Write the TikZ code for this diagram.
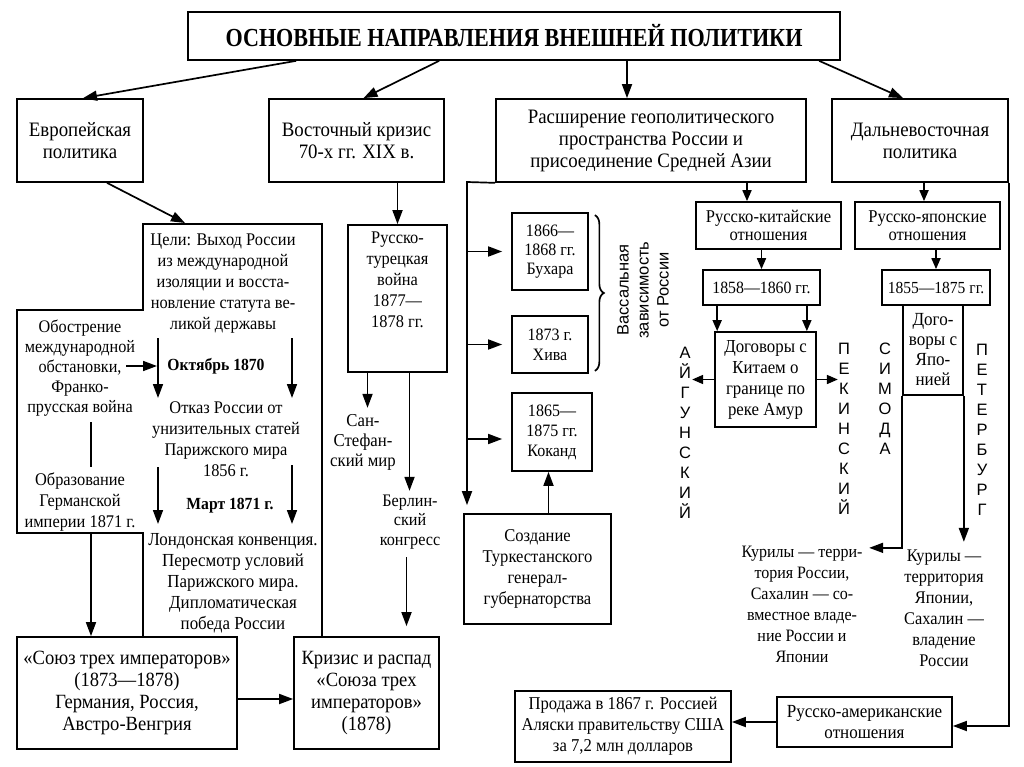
\documentclass[tikz,border=0pt]{standalone}
\usepackage{fontspec}
\setmainfont{Liberation Serif}[FakeStretch=0.92]
\newfontfamily\titlefont{Liberation Serif}[FakeStretch=0.85]
\newfontfamily\sansf{Liberation Sans}
\usetikzlibrary{arrows.meta,calc,decorations.pathreplacing}
\begin{document}
\begin{tikzpicture}[x=1pt,y=-1pt,
  txt/.style={font=\fontsize{17.8}{21}\selectfont, align=center, inner sep=0pt},
  big/.style={font=\fontsize{20.5}{22}\selectfont},
  bld/.style={font=\bfseries\fontsize{17}{21}\selectfont},
  box/.style={draw, line width=1.7pt, inner sep=0pt},
  ln/.style={line width=1.7pt},
  arr/.style={line width=1.7pt, -{Triangle[length=14pt,width=10pt]}},
  sarr/.style={line width=1.7pt, -{Triangle[length=11pt,width=9pt]}},
  vlet/.style={font=\sansf\fontsize{16.5}{20}\selectfont, align=center, inner sep=0pt},
]
\fill[white] (0,0) rectangle (1024,767);
\useasboundingbox (0,0) rectangle (1024,767);

% title and top row
\node[box,txt,font=\titlefont\bfseries\fontsize{26}{28}\selectfont,minimum width=652pt,minimum height=48pt] (title) at (514,36) {ОСНОВНЫЕ НАПРАВЛЕНИЯ ВНЕШНЕЙ ПОЛИТИКИ};
\node[box,txt,big,minimum width=126pt,minimum height=83pt] (eur) at (80,140.5) {Европейская\\политика};
\node[box,txt,big,minimum width=175pt,minimum height=83pt] (vost) at (356.5,140.5) {Восточный кризис\\70-х гг. XIX в.};
\node[box,txt,big,minimum width=310pt,minimum height=83pt] (ras) at (651,140.5) {Расширение геополитического\\пространства России и\\присоединение Средней Азии};
\node[box,txt,big,minimum width=176pt,minimum height=83pt] (dal) at (920,140.5) {Дальневосточная\\политика};

\draw[arr] ([xshift=109pt]title.south west) -- ([xshift=3pt]eur.north);
\draw[arr] ([xshift=252pt]title.south west) -- ([xshift=7pt]vost.north);
\draw[arr] ($(ras.north |- title.south)+(-24,0)$) -- ($(ras.north)+(-24,0)$);
\draw[arr] ([xshift=632pt]title.south west) -- ([xshift=-17pt]dal.north);

% left frame
\coordinate (lfTop) at (185,223);
\draw[arr] ([xshift=27pt]eur.south) -- (lfTop);
\draw[ln] (143,637) -- (143,533) -- (17,533) -- (17,310) -- (143,310) -- (143,224) -- (322,224) -- (322,637);

\node[txt] (goal) at (223,284) {Цели: Выход России\\из международной\\изоляции и восста-\\новление статута ве-\\ликой державы};
\node[txt,font=\fontsize{17.6}{20}\selectfont] (obostr) at (80,368) {Обострение\\международной\\обстановки,\\Франко-\\прусская война};
\node[txt,bld] (okt) at (216,366) {Октябрь 1870};
\node[txt] (otkaz) at (226,439) {Отказ России от\\унизительных статей\\Парижского мира\\1856 г.};
\node[txt] (obraz) at (80,502) {Образование\\Германской\\империи 1871 г.};
\node[txt,bld] (mart) at (230,506) {Март 1871 г.};
\node[txt,font=\fontsize{18.4}{21}\selectfont] (london) at (233,583) {Лондонская конвенция.\\Пересмотр условий\\Парижского мира.\\Дипломатическая\\победа России};

\coordinate (ob1) at (126,366); \coordinate (ob2) at (157,366);
\draw[arr] (ob1) -- (ob2);
\coordinate (la1) at (158,338); \coordinate (la2) at (158,398);
\coordinate (ra1) at (292,338); \coordinate (ra2) at (292,398);
\coordinate (la3) at (158,467); \coordinate (la4) at (158,524);
\coordinate (ra3) at (292,465); \coordinate (ra4) at (292,524);
\draw[arr] (la1) -- (la2); \draw[arr] (ra1) -- (ra2);
\draw[arr] (la3) -- (la4); \draw[arr] (ra3) -- (ra4);
\coordinate (vl1) at (91,422); \coordinate (vl2) at (91,467);
\draw[ln] (vl1) -- (vl2);

% bottom left boxes
\node[box,txt,font=\fontsize{20.2}{22}\selectfont,minimum width=220pt,minimum height=112pt] (soyuz) at (127,693) {«Союз трех императоров»\\(1873—1878)\\Германия, Россия,\\Австро-Венгрия};
\node[box,txt,font=\fontsize{20.2}{22}\selectfont,minimum width=145pt,minimum height=112pt] (krizis) at (366.5,693) {Кризис и распад\\«Союза трех\\императоров»\\(1878)};
\coordinate (obB) at (91,533);
\draw[arr] (obB) -- (obB |- soyuz.north);
\draw[arr] ($(soyuz.east)+(0,6)$) -- ($(krizis.west)+(0,6)$);

% middle column
\node[box,minimum width=99pt,minimum height=147pt] (turk) at (397.5,298.5) {};
\node[txt] (turkT) at (397.5,280) {Русско-\\турецкая\\война\\1877—\\1878 гг.};
\draw[arr] (turk.north |- vost.south) -- (turk.north);
\node[txt,font=\fontsize{18.2}{20}\selectfont] (sanst) at (363,442) {Сан-\\Стефан-\\ский мир};
\node[txt,font=\fontsize{17.6}{19.5}\selectfont] (berlin) at (410,522) {Берлин-\\ский\\конгресс};
\draw[arr] ($(turk.south)+(-30,0)$) -- ++(0,35);
\draw[arr] ($(turk.south)+(12,0)$) -- ++(0,118);
\draw[arr] ($(krizis.north)+(40,-79)$) -- ($(krizis.north)+(40,-10)$);

% Central Asia
\node[box,txt,font=\fontsize{17.4}{19}\selectfont,minimum width=76pt,minimum height=77pt] (buh) at (550,251.5) {1866—\\1868 гг.\\Бухара};
\node[box,txt,font=\fontsize{17.4}{20}\selectfont,minimum width=76pt,minimum height=57pt] (hiva) at (550,344.5) {1873 г.\\Хива};
\node[box,txt,font=\fontsize{17.4}{20}\selectfont,minimum width=80pt,minimum height=78pt] (kok) at (552,432) {1865—\\1875 гг.\\Коканд};
\node[box,txt,font=\fontsize{18}{21}\selectfont,minimum width=147pt,minimum height=110pt] (sozd) at (537.5,569) {Создание\\Туркестанского\\генерал-\\губернаторства};
\coordinate (asL) at (467,182);
\draw[arr] (ras.south west) -- (asL) -- ($(asL |- sozd.north)+(0,-8)$);
\draw[arr] (asL |- buh.west) -- ($(buh.west)+(-9,0)$);
\draw[arr] (asL |- hiva.west) -- ($(hiva.west)+(-9,0)$);
\draw[arr] ($(asL |- kok.west)+(0,7)$) -- ($(kok.west)+(-9,7)$);
\coordinate (sk) at ($(sozd.north)+(11,0)$);
\draw[arr] (sk) -- (sk |- kok.south);
\draw[ln,decorate,decoration={brace,amplitude=9pt}] ($(buh.north east)+(6,3)$) -- ($(hiva.south east)+(6,-3)$);
\node[txt,font=\sansf\fontsize{16.5}{20}\selectfont,rotate=90] (vas) at (643,290) {Вассальная\\зависимость\\от России};

% China
\node[box,txt,font=\fontsize{18}{18}\selectfont,minimum width=145pt,minimum height=47pt] (rk) at (768.5,225.5) {Русско-китайские\\отношения};
\coordinate (rkA) at ($(ras.south)+(96,0)$);
\draw[sarr] (rkA) -- (rkA |- rk.north);
\node[box,txt,font=\fontsize{17.2}{20}\selectfont,minimum width=117pt,minimum height=35pt] (y58) at (761.5,287.5) {1858—1860 гг.};
\draw[sarr] (y58.north |- rk.south) -- (y58.north);
\node[box,txt,font=\fontsize{18.3}{21}\selectfont,minimum width=101pt,minimum height=95pt] (dogK) at (765.5,379.5) {Договоры с\\Китаем о\\границе по\\реке Амур};
\coordinate (k1) at ($(y58.south west)+(15,0)$);
\coordinate (k2) at ($(y58.south east)+(-14,0)$);
\draw[sarr] (k1) -- (k1 |- dogK.north);
\draw[sarr] (k2) -- (k2 |- dogK.north);
\draw[sarr] (dogK.west) -- ++(-22,0);
\draw[sarr] (dogK.east) -- ++(21,0);
\node[vlet] (aig) at (685,433) {А\\Й\\Г\\У\\Н\\С\\К\\И\\Й};
\node[vlet] (pek) at (844,429) {П\\Е\\К\\И\\Н\\С\\К\\И\\Й};
\node[vlet] (sim) at (885,399) {С\\И\\М\\О\\Д\\А};

% Japan
\node[box,txt,font=\fontsize{18}{18}\selectfont,minimum width=145pt,minimum height=47pt] (rj) at (927.5,225.5) {Русско-японские\\отношения};
\draw[sarr] ($(dal.south)+(4,0)$) -- ($(rj.north)+(-3.5,0)$);
\node[box,txt,font=\fontsize{16.9}{20}\selectfont,minimum width=108pt,minimum height=35pt] (y55) at (936,287.5) {1855—1875 гг.};
\draw[sarr] (y55.north |- rj.south) -- (y55.north);
\node[box,txt,font=\fontsize{18.5}{20}\selectfont,minimum width=60pt,minimum height=90pt] (dogJ) at (933,350) {Дого-\\воры с\\Япо-\\нией};
\node[vlet] (petr) at (982,430) {П\\Е\\Т\\Е\\Р\\Б\\У\\Р\\Г};
\node[txt,font=\fontsize{17.4}{21}\selectfont] (kur1) at (802,604) {Курилы — терри-\\тория России,\\Сахалин — со-\\вместное владе-\\ние России и\\Японии};
\node[txt] (kur2) at (944,608) {Курилы —\\территория\\Японии,\\Сахалин —\\владение\\России};
\draw[arr] (dogJ.south west) -- ++(0,152) -- ++(-33,0);
\draw[arr] (dogJ.south east) -- ++(0,146);

% America
\node[box,txt,font=\fontsize{18.1}{21}\selectfont,minimum width=216pt,minimum height=71pt] (prod) at (623,726.5) {Продажа в 1867 г. Россией\\Аляски правительству США\\за 7,2 млн долларов};
\node[box,txt,font=\fontsize{18.5}{21}\selectfont,minimum width=175pt,minimum height=50pt] (ramer) at (864.5,722) {Русско-американские\\отношения};
\draw[arr] (ramer.west) -- (ramer.west -| prod.east);
\coordinate (rb) at ($(ramer.east)+(56,4)$);
\draw[arr] (dal.south east) -- (dal.south east |- rb) -- ($(ramer.east)+(0,4)$);
\end{tikzpicture}
\end{document}
